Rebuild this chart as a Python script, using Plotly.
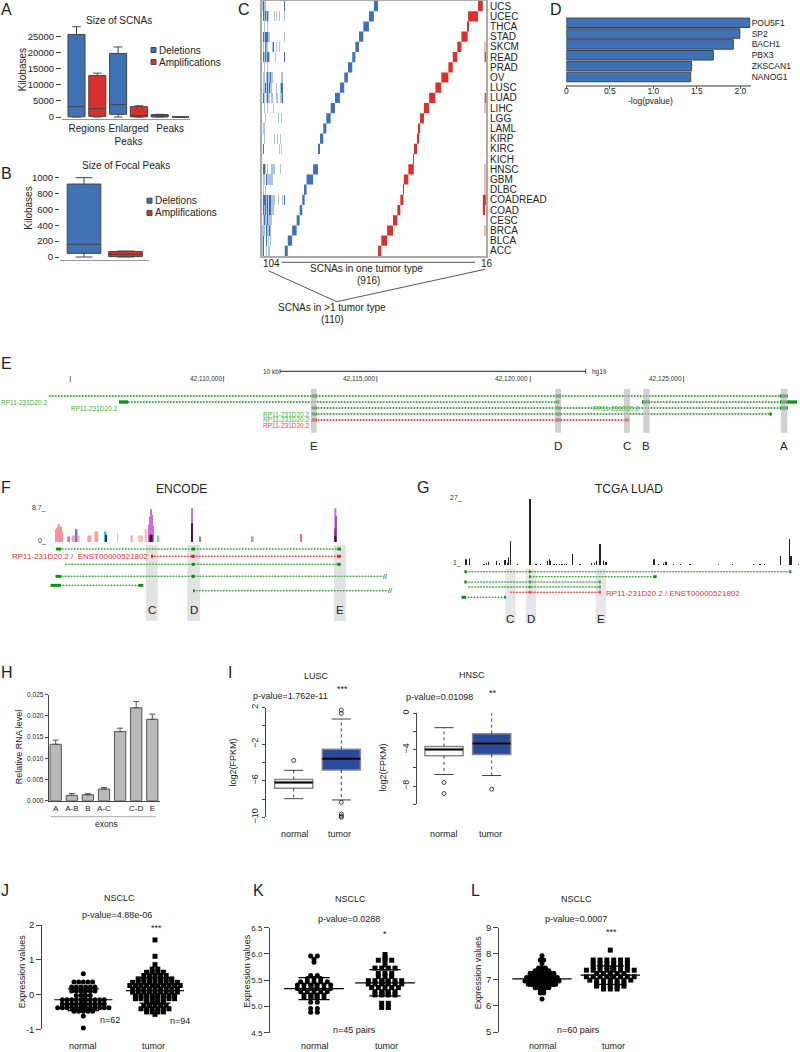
import plotly.graph_objects as go

W, H = 800, 1052
FONT = "Liberation Sans"
INK = "#222222"
BLUE, RED = "#3f72b5", "#d9302b"

# ---------- A ----------
a_del_q1 = [50, 830, 20]
a_del_med = [3230, 3850, 400]
a_del_q3 = [25700, 19800, 750]
a_del_lo = [0, 0, 0]
a_del_hi = [28100, 21800, 850]
a_amp_q1 = [200, 30, 0]
a_amp_med = [2600, 500, 10]
a_amp_q3 = [12900, 3230, 20]
a_amp_lo = [0, 0, 0]
a_amp_hi = [13650, 3500, 40]
a_groups = ["Regions", "Enlarged<br>Peaks", "Peaks"]
a_ticks = [0, 5000, 10000, 15000, 20000, 25000]

# ---------- B ----------
b_del = dict(q1=46, med=160, q3=920, lo=0, hi=1000)
b_amp = dict(q1=5, med=35, q3=70, lo=0, hi=75)
b_ticks = [0, 200, 400, 600, 800, 1000]

# ---------- C ----------
tumors = ["ACC", "BLCA", "BRCA", "CESC", "COAD", "COADREAD", "DLBC", "GBM", "HNSC", "KICH", "KIRC", "KIRP", "LAML",
          "LGG", "LIHC", "LUAD", "LUSC", "OV", "PRAD", "READ", "SKCM", "STAD", "THCA", "UCEC", "UCS"]
del_start = [105, 119, 139, 160, 174, 186, 197, 206, 236, 259, 259, 268, 283, 297, 317, 337, 360, 380, 397, 417, 431, 448, 468, 494, 517]
del_end = [119, 139, 160, 174, 186, 197, 206, 236, 259, 259, 268, 283, 297, 317, 337, 360, 380, 397, 417, 431, 448, 468, 494, 517, 536]
amp_start = [536, 551, 578, 605, 625, 639, 653, 655, 676, 701, 702, 716, 723, 730, 748, 772, 801, 828, 861, 881, 902, 921, 950, 952, 998]
amp_end = [551, 578, 605, 625, 639, 653, 655, 676, 701, 702, 716, 723, 730, 748, 772, 801, 828, 861, 881, 902, 921, 950, 952, 998, 1020]
shared_del = ["12001011000000000000000", "12002010100000000000000", "11102112100000000000000", "01211211110000000000000",
              "02121212211100000000000", "02221212211110001000102", "01010000000000000000000", "01102111111000000000000",
              "02210100011110000010000", "00000000000000000000000", "02000000000000000101000", "00100000000010010010000",
              "01100000000000000000000", "00010000000000001001000", "00100100000100000000000", "02101211011000110011200",
              "01121212110000100012200", "01101211211000000001100", "00100100000000000000000", "02121221000001000000002",
              "01021100001200100100000", "02122211000000000000001", "00100100000000000000000", "02121210000010100100001",
              "12110000000000000000002"]
shared_amp = ["000", "000", "011", "000", "220", "222", "011", "011", "011", "000", "000", "000", "000", "000", "011",
              "012", "000", "000", "000", "012", "011", "000", "000", "000", "000"]

# ---------- D ----------
d_genes = ["POU5F1", "SP2", "BACH1", "PBX3", "ZKSCAN1", "NANOG1"]
d_vals = [2.11, 1.995, 1.92, 1.69, 1.44, 1.43]

# ---------- E ----------
e_bands = [(42112849, 42113035, "E"), (42120806, 42121002, "D"), (42123056, 42123252, "C"),
           (42123685, 42123893, "B"), (42128176, 42128382, "A")]
e_seg_start = [42104305, 42106588, 42123643, 42112872, 42112872, 42112872]
e_seg_end = [42128395, 42120904, 42128699, 42128405, 42127873, 42123209]
e_seg_track = [1, 2, 2, 3, 4, 5]
e_seg_color = ["g", "g", "g", "g", "g", "r"]
e_exons = [[(42112872, 42113045), (42120829, 42121002), (42128144, 42128395)],
           [(42106588, 42106882), (42120830, 42120950)],
           [(42123643, 42123904), (42128144, 42128699)],
           [(42112872, 42113045), (42120829, 42121002), (42128144, 42128405)],
           [(42112872, 42113045), (42120829, 42121002), (42127800, 42127873)],
           [(42112872, 42113045), (42120829, 42121002), (42123089, 42123209)]]
e_ticks = [42105000, 42110000, 42115000, 42120000, 42125000]
e_labels = ["", "42,110,000", "42,115,000", "42,120,000", "42,125,000"]

# ---------- F ----------
f_pos = [167, 170, 173, 176, 179, 182, 185, 206, 223, 230, 237, 268, 289, 317, 317, 352, 395, 422, 437, 447, 450, 453, 456, 459,
         453, 475, 576, 576, 601, 757, 903, 1006, 1009, 1006, 1006]
f_wid = [3, 3, 3, 3, 3, 3, 3, 8, 17, 5, 6, 12, 12, 5, 4, 2, 6, 16, 6, 3, 3, 3, 3, 3, 10, 3, 6, 6, 3, 9, 5, 6, 4, 6, 6]
f_val = [3.07, 3.48, 3.9, 4.47, 3.48, 3.9, 2.65, 1.4, 1.66, 3.2, 1.66, 1.66, 2.65, 2.65, 1.8, 2.57, 1.66, 1.66, 3.2, 4.3, 6.4, 8.2, 6.8, 4.0,
         1.8, 1.66, 8.45, 4.7, 1.4, 1.4, 2.0, 8.45, 6.5, 3.4, 1.5]
f_col = ["#f8919b"] * 7 + ["#8f86ee", "#f5a5a5", "#7d6fd8", "#fbc4c4", "#f5a5a5", "#f5a5a5", "#35c8ee", "#1c2460", "#a8e8b0",
         "#f5a5a5", "#fbc4c4", "#fbb0b0"] + ["#d36ad9"] * 5 + ["#50103f", "#40e8e8", "#d36ad9", "#5a0f45", "#7f7fe8", "#a9a2ee",
         "#f06aa0", "#d36ad9", "#8a5ae0", "#8a2a9a", "#30103f"]
f_seg_start = [168, 453, 196, 167, 152, 579]
f_seg_end = [1022, 1022, 1022, 1150, 430, 1165]
f_seg_y = [237, 259, 283, 319, 346, 362]
f_seg_color = ["g", "r", "g", "g", "g", "g"]
f_exons = [[(168, 184), (575, 585), (1012, 1023)], [(453, 459), (574, 584), (1012, 1022)], [(575, 584), (1012, 1022)],
           [(167, 184), (575, 584)], [(152, 183), (415, 430)], [(579, 584)]]
f_bands = [(438, 473, "C"), (562, 600, "D"), (1002, 1037, "E")]

# ---------- G ----------
g_pos = [168, 178, 222, 230, 236, 260, 268, 285, 292, 296, 301, 322, 360, 378, 392, 413, 418, 422, 432, 440, 448, 456, 464, 470,
         487, 510, 545, 553, 560, 570, 580, 588, 732, 745, 760, 768, 790, 812, 840, 925, 967, 1030, 1050, 1063, 1111, 1139, 1143, 1165]
g_val = [3.2, 3.5, 1.4, 1.65, 2.3, 2.6, 1.65, 2.95, 1.9, 4.0, 10.4, 1.4, 26.7, 1.5, 1.4, 2.7, 3.2, 2.7, 1.4, 1.4, 1.4, 1.4, 1.4, 1.4,
         5.3, 1.4, 1.65, 1.9, 2.7, 9.2, 2.7, 2.2, 3.2, 1.4, 1.65, 2.3, 1.4, 1.4, 1.4, 1.3, 1.4, 1.4, 1.4, 1.4, 4.5, 11.1, 4.5, 1.3]
g_seg_start = [166, 360, 166, 175, 301, 155]
g_seg_end = [1141, 735, 570, 570, 570, 285]
g_seg_y = [305, 320, 336, 351, 367, 382]
g_seg_color = ["g", "g", "g", "g", "r", "g"]
g_exons = [[(163, 170), (357, 362), (1138, 1144)], [(357, 362), (730, 740)], [(163, 170), (358, 362), (568, 572)],
           [(358, 362), (568, 572)], [(358, 362), (568, 572)], [(155, 168), (283, 288)]]
g_bands = [(286, 317, "C"), (347, 378, "D"), (557, 588, "E")]

# ---------- H ----------
h_labels = ["A", "A-B", "B", "A-C", "", "C-D", "E"]
h_vals = [0.0133, 0.00126, 0.0014, 0.00275, 0.0163, 0.0219, 0.0192]
h_errs = [0.0010, 0.00044, 0.00025, 0.00035, 0.0008, 0.0015, 0.0012]
h_ticks = [0, 0.005, 0.01, 0.015, 0.02, 0.025]

# ---------- I ----------
lusc_q1, lusc_med, lusc_q3 = [-6.83, -4.82], [-6.18, -3.58], [-5.85, -2.56]
lusc_lo, lusc_hi = [-7.96, -8.1], [-4.86, 0.76]
lusc_out_x = [0, 1, 1, 1, 1, 1, 1, 1, 1, 1]
lusc_out_y = [-3.77, 3.0, 2.3, 2.04, 1.74, 1.38, -8.36, -9.64, -9.86, -10.0]
hnsc_q1, hnsc_med, hnsc_q3 = [-4.67, -4.52], [-3.97, -3.31], [-3.64, -2.24]
hnsc_lo, hnsc_hi = [-6.73, -6.84], [-1.58, 0.15]
hnsc_out_x = [0, 0, 1, 1]
hnsc_out_y = [-7.6, -8.82, 1.07, -8.34]

# ---------- J K L: (value, how many samples near it) ----------
j_normal = [(0.6, 1), (0.36, 5), (0.22, 6), (0.1, 6), (-0.03, 4), (-0.15, 10), (-0.27, 10), (-0.38, 12), (-0.48, 5), (-0.62, 1), (-0.96, 1), (-1.05, 1)]
j_tumor = [(1.57, 1), (1.1, 1), (0.86, 1), (0.73, 2), (0.64, 4), (0.55, 5), (0.45, 7), (0.35, 9), (0.26, 10), (0.16, 9), (0.07, 9), (-0.03, 8),
           (-0.12, 8), (-0.22, 4), (-0.32, 5), (-0.41, 6), (-0.5, 4), (-0.57, 1)]
k_normal = [(5.96, 2), (5.9, 1), (5.84, 1), (5.59, 2), (5.53, 3), (5.47, 5), (5.41, 6), (5.34, 6), (5.28, 5), (5.22, 4), (5.17, 4), (5.08, 2), (4.96, 2), (4.89, 2)]
k_tumor = [(5.99, 1), (5.92, 1), (5.88, 3), (5.79, 1), (5.73, 4), (5.63, 3), (5.57, 3), (5.49, 6), (5.43, 6), (5.36, 5), (5.28, 4), (5.22, 4), (5.06, 2), (4.98, 2)]
l_normal = [(7.92, 1), (7.76, 2), (7.63, 1), (7.45, 3), (7.35, 5), (7.22, 8), (7.09, 10), (6.96, 11), (6.83, 9), (6.7, 5), (6.6, 2), (6.5, 2), (6.27, 1)]
l_tumor = [(8.14, 1), (7.76, 6), (7.63, 6), (7.5, 6), (7.37, 8), (7.24, 5), (7.12, 8), (6.99, 7), (6.86, 5), (6.76, 5), (6.65, 3)]
j_mean, j_sd = [-0.15, 0.11], [0.31, 0.36]
k_mean, k_sd = [5.34, 5.45], [0.21, 0.25]
l_mean, l_sd = [7.04, 7.18], [0.28, 0.35]

fig = go.Figure()
layout = {}
anns, shapes = [], []
count = 0


def cal(v0, p0, v1, p1, pa, pb):
    s = (v1 - v0) / (p1 - p0)
    return [v0 + (pa - p0) * s, v0 + (pb - p0) * s]


def axes(x0, x1, ytop, ybot, xr, yr, xo=None, yo=None):
    global count
    count += 1
    base = dict(showgrid=False, zeroline=False, showticklabels=False, ticks="", showline=False, automargin=False,
                tickfont=dict(family=FONT, size=10, color=INK))
    xa = dict(base, domain=[x0 / W, x1 / W], range=xr, anchor=f"y{count}")
    ya = dict(base, domain=[1 - ybot / H, 1 - ytop / H], range=yr, anchor=f"x{count}")
    xa.update(xo or {})
    ya.update(yo or {})
    s = "" if count == 1 else str(count)
    layout["xaxis" + s] = xa
    layout["yaxis" + s] = ya
    return f"x{count}", f"y{count}"


def text(x, y, s, size=10, color=INK, anchor="center", angle=0, xref="paper", family=FONT):
    anns.append(dict(x=x / W if xref == "paper" else x, y=1 - y / H, xref=xref, yref="paper", text=s, showarrow=False,
                     xanchor=anchor, yanchor="middle", textangle=angle, borderpad=0, borderwidth=0,
                     font=dict(family=family, size=size, color=color)))


def letter(x, y, s):
    text(x, y, s, 16, anchor="left")


def rect(x0, y0, x1, y1, fill, line="rgba(0,0,0,0)", layer="above", xref="paper", lw=1):
    shapes.append(dict(type="rect", xref=xref, yref="paper", x0=x0 / W if xref == "paper" else x0,
                       x1=x1 / W if xref == "paper" else x1, y0=1 - y0 / H, y1=1 - y1 / H,
                       fillcolor=fill, line=dict(color=line, width=lw), layer=layer))


def seg(x0, y0, x1, y1, color="#555555", lw=1, xref="paper"):
    shapes.append(dict(type="line", xref=xref, yref="paper", x0=x0 / W if xref == "paper" else x0,
                       x1=x1 / W if xref == "paper" else x1, y0=1 - y0 / H, y1=1 - y1 / H, line=dict(color=color, width=lw)))


def box(xa, ya, xs, q1, med, q3, lo, hi, fill, width, line="#444444", lw=1, ww=0.5):
    fig.add_trace(go.Box(x=xs, q1=q1, median=med, q3=q3, lowerfence=lo, upperfence=hi, xaxis=xa, yaxis=ya,
                         fillcolor=fill, line=dict(color=line, width=lw), width=width, whiskerwidth=ww,
                         boxpoints=False, orientation="v", showlegend=False, hoverinfo="skip"))


def legend(x, ys, tx):
    for y, c, lab in zip(ys, [BLUE, RED], ["Deletions", "Amplifications"]):
        rect(x, y - 2.5, x + 5, y + 2.5, c, "#444444")
        text(tx, y, lab, 10, anchor="left")


# ---- Panel A
xa, ya = axes(62, 190, 24, 119, cal(0, 76.5, 5, 180.5, 62, 190), cal(0, 117, 25000, 36.7, 119, 24),
              dict(showline=True, linecolor="#999999", linewidth=1, tickvals=[0.5, 2.5, 4.5], ticktext=a_groups, showticklabels=True),
              dict(tickvals=a_ticks, ticktext=[str(t) for t in a_ticks], ticks="outside", ticklen=5, tickcolor="#444444", showticklabels=True,
                   tickfont=dict(family=FONT, size=9.5, color=INK)))
box(xa, ya, [0, 2, 4], a_del_q1, a_del_med, a_del_q3, a_del_lo, a_del_hi, BLUE, 0.82)
box(xa, ya, [1, 3, 5], a_amp_q1, a_amp_med, a_amp_q3, a_amp_lo, a_amp_hi, RED, 0.82)
text(119, 20, "Size of SCNAs")
text(23.3, 70, "Kilobases", angle=-90)
legend(151, [50, 62], 159.3)
letter(1, 9.5, "A")

# ---- Panel B
xa, ya = axes(60, 149, 172, 259.7, cal(0, 84, 1, 125.5, 60, 149), cal(0, 257, 1000, 177.7, 259.7, 172),
              dict(showline=True, linecolor="#999999", linewidth=1),
              dict(tickvals=b_ticks, ticks="outside", ticklen=4, tickcolor="#444444", showticklabels=True,
                   tickfont=dict(family=FONT, size=9.5, color=INK)))
box(xa, ya, [0], [b_del["q1"]], [b_del["med"]], [b_del["q3"]], [b_del["lo"]], [b_del["hi"]], BLUE, 0.81, ww=0.5)
box(xa, ya, [1], [b_amp["q1"]], [b_amp["med"]], [b_amp["q3"]], [b_amp["lo"]], [b_amp["hi"]], RED, 0.81, ww=0.5)
text(126, 165.7, "Size of Focal Peaks")
text(29, 207.7, "Kilobases", angle=-90)
legend(147, [200.7, 213], 155.3)
letter(1, 173, "B")

# ---- Panel C
xa, ya = axes(262, 486.3, 1, 256, [0, 1036], [-0.5, 24.5],
              dict(showline=True, mirror=True, linecolor="#aaaaaa", linewidth=1.5),
              dict(showline=True, mirror=True, linecolor="#aaaaaa", linewidth=1.5, side="right",
                   tickvals=list(range(25)), ticktext=tumors, showticklabels=True, ticklen=0))
rows = list(range(len(tumors)))
for pattern, x0, dx, light, dark in [(shared_del, 2.26, 4.52, "#a9c4e4", BLUE), (shared_amp, 1022.7, 5.33, "#f4b5b0", RED)]:
    z = [[int(c) for c in p] for p in pattern]
    fig.add_trace(go.Heatmap(z=z, x0=x0, dx=dx, y=rows, xaxis=xa, yaxis=ya, zmin=0, zmax=2, showscale=False, hoverinfo="skip",
                             colorscale=[[0, "white"], [0.25, "white"], [0.25, light], [0.75, light], [0.75, dark], [1, dark]]))
fig.add_trace(go.Bar(y=rows, base=del_start, x=[e - s for s, e in zip(del_start, del_end)], orientation="h", width=1,
                     marker=dict(color=BLUE, line_width=0), xaxis=xa, yaxis=ya, hoverinfo="skip"))
fig.add_trace(go.Bar(y=rows, base=amp_start, x=[e - s for s, e in zip(amp_start, amp_end)], orientation="h", width=1,
                     marker=dict(color=RED, line_width=0), xaxis=xa, yaxis=ya, hoverinfo="skip"))
letter(238, 9.5, "C")
text(271.7, 263, "104")
text(487.3, 263, "16")
text(366.7, 268.5, "SCNAs in one tumor type")
text(368, 280.5, "(916)")
text(332, 307, "SCNAs in &gt;1 tumor type")
text(332, 319.5, "(110)")
seg(281.7, 262.3, 475, 262.3)
seg(268.3, 270.7, 336.7, 301.7)
seg(336.7, 301.7, 485, 269.3)

# ---- Panel D
xa, ya = axes(566.3, 750.7, 17.3, 84.5, [0, 184.4 / 87], cal(0, 22.7, 5, 77, 84.5, 17.3),
              dict(showline=True, linecolor="#999999", linewidth=1.5, ticks="outside", ticklen=3, tickcolor="#555555",
                   tickvals=[0, 0.5, 1, 1.5, 2], ticktext=["0", "0.5", "1.0", "1.5", "2.0"], showticklabels=True,
                   ticklabelstandoff=-5, tickfont=dict(family=FONT, size=8.5, color=INK)),
              dict(side="right", tickvals=list(range(6)), ticktext=d_genes, showticklabels=True, ticklen=0,
                   tickfont=dict(family=FONT, size=8.5, color=INK)))
fig.add_trace(go.Bar(y=list(range(6)), x=d_vals, orientation="h", width=0.88, xaxis=xa, yaxis=ya, hoverinfo="skip",
                     marker=dict(color=BLUE, line=dict(color="#444444", width=1))))
text(650, 101, "-log(pvalue)", 8.5)
letter(550, 9.5, "D")

GREEN_DOT, RED_DOT, GREEN_EX, RED_EX = "#52a852", "#ee5050", "#0b930b", "#f01818"


def tracks(xa, ya, starts, ends, ys, kinds, exons, lw, ew):
    for s, e, y, k, ex in zip(starts, ends, ys, kinds, exons):
        dot, exc = (GREEN_DOT, GREEN_EX) if k == "g" else (RED_DOT, RED_EX)
        fig.add_trace(go.Scatter(x=[s, e], y=[y, y], mode="lines", line=dict(color=dot, width=lw, dash="1.5px,1.5px"),
                                 xaxis=xa, yaxis=ya, hoverinfo="skip"))
        fig.add_trace(go.Scatter(x=[s, e], y=[y, y], mode="lines", line=dict(color=dot, width=0.6),
                                 opacity=0.6, xaxis=xa, yaxis=ya, hoverinfo="skip"))
        for a, b in ex:
            fig.add_trace(go.Scatter(x=[a, b], y=[y, y], mode="lines", line=dict(color=exc, width=ew),
                                     xaxis=xa, yaxis=ya, hoverinfo="skip"))


# ---- Panel E
e_px = lambda px: 42105000 + (px - 70.3) * 32.61
xa, ya = axes(0, 800, 390, 432, [e_px(0), e_px(800)], [7.0, 0.0])
tracks(xa, ya, e_seg_start, e_seg_end, e_seg_track, e_seg_color, e_exons, 2, 3.3)
for a, b, lab in e_bands:
    rect(a, 389, b, 432.7, "rgba(185,185,185,0.65)", xref=xa)
    text((a + b) / 2, 445.7, lab, 11.5, xref=xa)
for t, lab in zip(e_ticks, e_labels):
    seg(t, 376, t, 382, "#444444", 0.8, xref=xa)
    if lab:
        text(t - 60, 379, lab, 6.5, "#333333", "right", xref=xa)
seg(280, 371.3, 585.7, 371.3, "#222222", 1)
seg(280, 369, 280, 373.6, "#222222", 0.8)
seg(585.7, 369, 585.7, 373.6, "#222222", 0.8)
text(279, 371.3, "10 kb", 6.5, "#333333", "right")
text(591.7, 372, "hg19", 6.5, "#333333", "left")
GL = "#3cb43c"
for px, y, c in [(47.7, 402, GL), (117.7, 408, GL), (310, 414, GL), (310, 420, GL), (310, 426, "#f04040"), (640, 408, GL)]:
    text(px, y, "RP11-231D20.2", 6.5, c, "right")
letter(1, 364, "E")

# ---- Panel F
xa, ya = axes(0, 400, 507.3, 542, [0, 1200], [0, 8.7])
fig.add_trace(go.Bar(x=f_pos, y=f_val, width=f_wid, marker=dict(color=f_col, line_width=0), xaxis=xa, yaxis=ya, hoverinfo="skip"))
xa, ya = axes(0, 400, 540, 630, [0, 1200], cal(237, 549, 362, 590.7, 630, 540))
for a, b, lab in f_bands:
    rect(a, 545, b, 621, "#e2e2e2", layer="below", xref=xa)
    text((a + b) / 2, 609.5, lab, 11.5, xref=xa)
tracks(xa, ya, f_seg_start, f_seg_end, f_seg_y, f_seg_color, f_exons, 1.5, 3)
text(147.7, 556, "RP11-231D20.2 /  ENST00000521802", 8, "#f03030", "right")
text(385, 576.3, "//", 7.5, "#333333")
text(390.3, 590.7, "//", 7.5, "#333333")
text(181, 489.5, "ENCODE", 12)
text(39, 507.7, "8.7_", 7, "#333333")
text(42, 540.7, "0_", 7, "#333333")
letter(1, 487, "F")

# ---- Panel G
xa, ya = axes(410, 800, 498.3, 565, [0, 1170], [1, 27])
fig.add_trace(go.Bar(x=g_pos, y=g_val, width=[6 if p == 360 else 2 for p in g_pos], marker=dict(color="#222222", line_width=0),
                     xaxis=xa, yaxis=ya, hoverinfo="skip"))
xa, ya = axes(410, 800, 565, 630, [0, 1170], cal(305, 571.7, 382, 597.3, 630, 565))
for a, b, lab in g_bands:
    rect(a, 568.5, b, 623.5, "#e6e6ea", layer="below", xref=xa)
    text((a + b) / 2, 618.5, lab, 11.5, xref=xa)
tracks(xa, ya, g_seg_start, g_seg_end, g_seg_y, g_seg_color, g_exons, 1.5, 3)
text(605.7, 593, "RP11-231D20.2 / ENST00000521802", 8, "#f03030", "left")
text(629.3, 489, "TCGA LUAD", 12)
text(455.5, 497.5, "27_", 7, "#333333")
text(457, 562.5, "1_", 7, "#333333")
letter(417, 487, "G")

# ---- Panel H
xa, ya = axes(48.7, 160, 694.7, 800.7, cal(0, 55.7, 6, 152.3, 48.7, 160), [0, 0.025],
              dict(showline=True, linecolor="#444444", linewidth=1, tickvals=list(range(7)), ticktext=h_labels, showticklabels=True,
                   tickfont=dict(family=FONT, size=8, color=INK)),
              dict(showline=True, linecolor="#444444", linewidth=1, ticks="outside", ticklen=3, tickcolor="#444444",
                   tickvals=h_ticks, ticktext=["0.000", "0.005", "0.010", "0.015", "0.020", "0.025"], showticklabels=True,
                   tickfont=dict(family=FONT, size=6.5, color=INK)))
fig.add_trace(go.Bar(x=list(range(7)), y=h_vals, width=0.7, xaxis=xa, yaxis=ya, hoverinfo="skip",
                     marker=dict(color="#b9b9b9", line=dict(color="#555555", width=1)),
                     error_y=dict(type="data", array=h_errs, arrayminus=[0] * 7, color="#555555", thickness=1, width=3)))
seg(51, 816.7, 155.7, 816.7, "#aaaaaa", 1)
text(106, 824, "exons", 8.5)
text(19.3, 747, "Relative RNA level", 9, angle=-90)
letter(1, 672.7, "H")


def rbox(xa, ya, q1, med, q3, lo, hi, ox, oy):
    box(xa, ya, [0], [q1[0]], [med[0]], [q3[0]], [q1[0]], [q3[0]], "white", 0.8, "#888888", 1.5, 0)
    box(xa, ya, [1], [q1[1]], [med[1]], [q3[1]], [q1[1]], [q3[1]], "#2b4a9b", 0.8, "#888888", 1.5, 0)
    for i in range(2):
        fig.add_trace(go.Scatter(x=[i, i, None, i, i], y=[q3[i], hi[i], None, q1[i], lo[i]], mode="lines",
                                 line=dict(color="#111111", width=0.8, dash="3px,3px"), xaxis=xa, yaxis=ya, hoverinfo="skip"))
        fig.add_trace(go.Scatter(x=[i - .2, i + .2, None, i - .2, i + .2], y=[hi[i], hi[i], None, lo[i], lo[i]], mode="lines",
                                 line=dict(color="#111111", width=0.8), xaxis=xa, yaxis=ya, hoverinfo="skip"))
        fig.add_trace(go.Scatter(x=[i - .4, i + .4], y=[med[i], med[i]], mode="lines", line=dict(color="black", width=2),
                                 xaxis=xa, yaxis=ya, hoverinfo="skip"))
    fig.add_trace(go.Scatter(x=ox, y=oy, mode="markers", cliponaxis=False, xaxis=xa, yaxis=ya, hoverinfo="skip",
                             marker=dict(symbol="circle-open", size=4, color="#111111", line=dict(width=0.8, color="#111111"))))


# ---- Panel I, LUSC
xa, ya = axes(266, 372, 707.7, 817.3, cal(0, 293.7, 1, 341.3, 266, 372), [-10, 2], None,
              dict(showline=True, linecolor="#444444", linewidth=1, ticks="outside", ticklen=3, tickcolor="#444444",
                   tickvals=[2, 0, -2, -4, -6, -8, -10], ticktext=["2", "", "\u22122", "", "\u22126", "", "\u221210"], showticklabels=True,
                   tickangle=-90, tickfont=dict(family=FONT, size=9, color=INK)))
rbox(xa, ya, lusc_q1, lusc_med, lusc_q3, lusc_lo, lusc_hi, lusc_out_x, lusc_out_y)
text(295, 834.3, "normal", 9)
text(339.7, 834.3, "tumor", 9)
text(316, 675.7, "LUSC", 9)
text(252.7, 696.3, "p-value=1.762e-11", 9, anchor="left")
text(342.3, 689, "***", 9)
text(232.7, 762.7, "log2(FPKM)", 9, angle=-90)
letter(228, 672, "I")

# ---- Panel I, HNSC
xa, ya = axes(416.7, 520, 713.3, 804.3, cal(0, 444, 1, 491.7, 416.7, 520), [-10, 0], None,
              dict(showline=True, linecolor="#444444", linewidth=1, ticks="outside", ticklen=3, tickcolor="#444444",
                   tickvals=[0, -2, -4, -6, -8, -10], ticktext=["0", "", "\u22124", "", "\u22128", ""], showticklabels=True,
                   tickangle=-90, tickfont=dict(family=FONT, size=9, color=INK)))
rbox(xa, ya, hnsc_q1, hnsc_med, hnsc_q3, hnsc_lo, hnsc_hi, hnsc_out_x, hnsc_out_y)
text(444.3, 834.3, "normal", 9)
text(490, 834.3, "tumor", 9)
text(472, 675, "HNSC", 9)
text(405.7, 697, "p-value=0.01098", 9, anchor="left")
text(493.3, 693.3, "**", 9)
text(382.7, 767.7, "log2(FPKM)", 9, angle=-90)


def swarm(rows_, center, gap):
    xs, ys = [], []
    for v, n in rows_:
        for i in range(n):
            xs.append(center + gap * (i - (n - 1) / 2))
            ys.append(v)
    return xs, ys


def dots(xa, ya, nrows, trows, g0, g1, mean, sd, hw, hs):
    for rows_, c, gap, sym in [(nrows, 0, g0, "circle"), (trows, 1, g1, "square")]:
        xs, ys = swarm(rows_, c, gap)
        fig.add_trace(go.Scatter(x=xs, y=ys, mode="markers", xaxis=xa, yaxis=ya, cliponaxis=False, hoverinfo="skip",
                                 marker=dict(symbol=sym, size=5, color="black", line_width=0)))
    for i in range(2):
        m, s = mean[i], sd[i]
        fig.add_trace(go.Scatter(x=[i - hw, i + hw, None, i - hs, i + hs, None, i - hs, i + hs, None, i, i],
                                 y=[m, m, None, m + s, m + s, None, m - s, m - s, None, m - s, m + s],
                                 mode="lines", line=dict(color="black", width=1.2), xaxis=xa, yaxis=ya, hoverinfo="skip"))


BOT = 1046
yax = lambda vals, txt, fs=9.5: dict(showline=True, linecolor="#444444", linewidth=1, ticks="outside", ticklen=5, tickcolor="#444444",
                                     tickvals=vals, ticktext=txt, showticklabels=True, tickfont=dict(family=FONT, size=fs, color=INK))
# ---- Panel J
xa, ya = axes(42.3, 230, 925, 1029.3, cal(0, 83.3, 1, 155, 42.3, 230), [-1, 2], None, yax([-1, 0, 1, 2], ["-1", "0", "1", "2"]))
dots(xa, ya, j_normal, j_tumor, 0.065, 0.078, j_mean, j_sd, 0.405, 0.216)
text(119.3, 898, "NSCLC", 9)
text(117.3, 915.3, "p-value=4.88e-06", 9)
text(156, 927.7, "***", 9)
text(110, 1020.3, "n=62", 9)
text(180, 1021, "n=94", 9)
text(83.3, BOT, "normal", 9)
text(153.3, BOT, "tumor", 9)
text(22.3, 971, "Expression values", 9, angle=-90)
letter(1, 890, "J")

# ---- Panel K
xa, ya = axes(270, 440, 927.7, 1032.7, cal(0, 314, 1, 385, 270, 440), [4.5, 6.5], None,
              yax([4.5, 5, 5.5, 6, 6.5], ["4.5", "5.0", "5.5", "6.0", "6.5"], 8))
dots(xa, ya, k_normal, k_tumor, 0.094, 0.094, k_mean, k_sd, 0.42, 0.22)
text(350.3, 898.7, "NSCLC", 9)
text(349, 919, "p-value=0.0288", 9)
text(385, 934.3, "*", 9)
text(354.3, 1030.3, "n=45 pairs", 9)
text(315, BOT, "normal", 9)
text(386.3, BOT, "tumor", 9)
text(246.7, 971, "Expression values", 9, angle=-90)
letter(253, 890, "K")

# ---- Panel L
xa, ya = axes(499.3, 660, 927.7, 1032, cal(0, 542, 1, 610.3, 499.3, 660), [5, 9], None,
              yax([5, 6, 7, 8, 9], ["5", "6", "7", "8", "9"]))
dots(xa, ya, l_normal, l_tumor, 0.05, 0.1, l_mean, l_sd, 0.435, 0.2)
text(576.7, 899.3, "NSCLC", 9)
text(575.7, 918.7, "p-value=0.0007", 9)
text(611, 932, "***", 9)
text(578, 1030.3, "n=60 pairs", 9)
text(543, BOT, "normal", 9)
text(613.7, BOT, "tumor", 9)
text(478.3, 972, "Expression values", 9, angle=-90)
letter(471, 890, "L")

fig.update_layout(width=W, height=H, margin=dict(l=0, r=0, t=0, b=0), paper_bgcolor="white", plot_bgcolor="rgba(0,0,0,0)",
                  showlegend=False, barmode="overlay", boxmode="overlay", annotations=anns, shapes=shapes,
                  font=dict(family=FONT, size=10, color=INK), **layout)
fig.write_html("out.html", config={"displayModeBar": False}, post_script="document.body.style.margin='0';")
